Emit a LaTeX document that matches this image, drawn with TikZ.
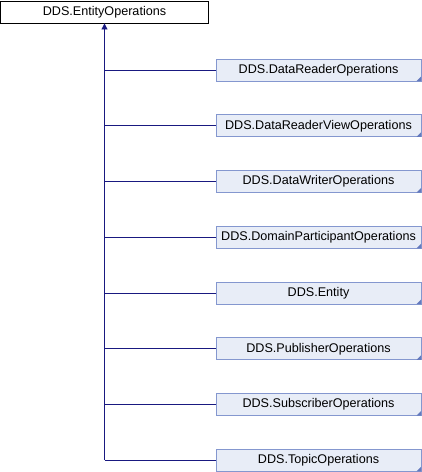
\documentclass[tikz,border=0pt]{standalone}
\usepackage{fontspec}
\setmainfont{Liberation Sans}
\usetikzlibrary{arrows.meta}
\definecolor{edgeblue}{RGB}{25,25,128}
\definecolor{boxborder}{RGB}{132,151,207}
\definecolor{boxfill}{RGB}{232,237,247}
\definecolor{cornerc}{RGB}{100,122,190}
\begin{document}
\begin{tikzpicture}[x=1pt,y=-1pt,
  basebox/.style={draw=black,fill=white,line width=0.9pt,minimum width=208pt,minimum height=22pt,inner sep=0pt,font=\fontsize{12.6}{14}\selectfont},
  childbox/.style={draw=boxborder,fill=boxfill,line width=0.9pt,minimum width=205pt,minimum height=22pt,inner sep=0pt,font=\fontsize{12.6}{14}\selectfont},
  conn/.style={draw=edgeblue,line width=0.9pt}]
\useasboundingbox (0,0) rectangle (422,472);
\node[basebox] (top) at (104.5,12) {DDS.EntityOperations};
\foreach \n/\t [count=\k from 0] in {c0/DDS.DataReaderOperations,c1/DDS.DataReaderViewOperations,c2/DDS.DataWriterOperations,c3/DDS.DomainParticipantOperations,c4/DDS.Entity,c5/DDS.PublisherOperations,c6/DDS.SubscriberOperations,c7/DDS.TopicOperations}{
  \node[childbox] (\n) at (318.5,{70+55.75*\k}) {\t};
  \fill[cornerc] ([xshift=-0.45pt,yshift=0.45pt]\n.south east) -- ++(0,-4.5) -- ++(-4.5,4.5) -- cycle;
  \draw[conn] (\n.west) -- (\n.west -| top.south);
}
\coordinate (bot) at (c7.west -| top.south);
\draw[conn,-{Triangle[length=6pt,width=6pt]}] (bot) -- (top.south);
\end{tikzpicture}
\end{document}
